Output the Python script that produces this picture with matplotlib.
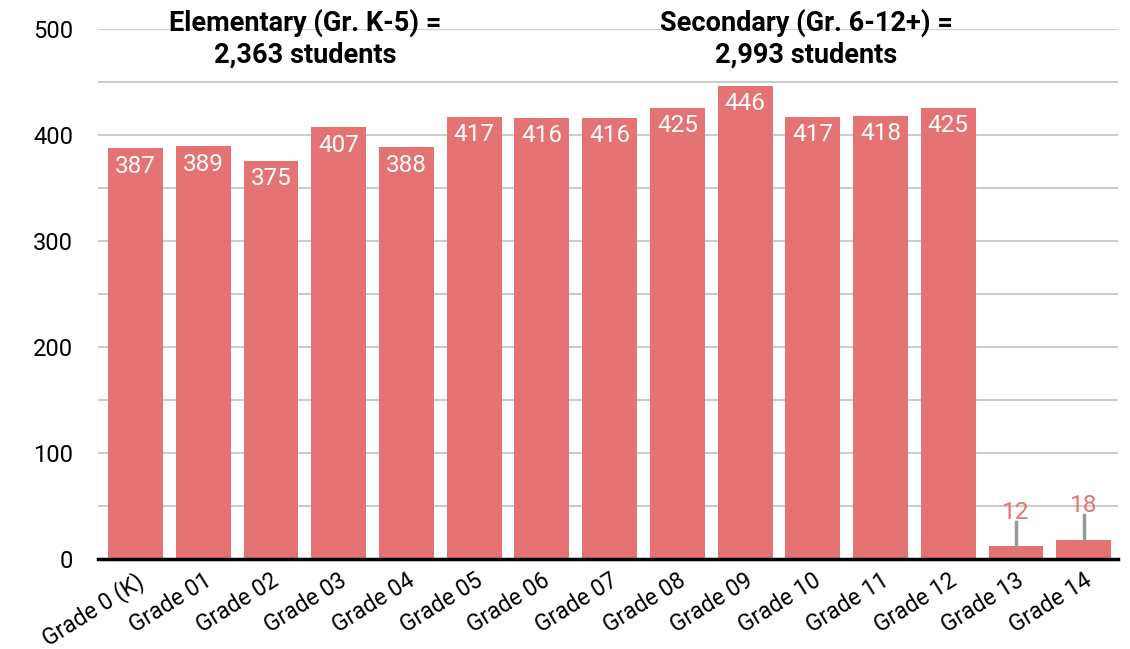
import matplotlib.pyplot as plt
from matplotlib.ticker import MultipleLocator

plt.rcParams['font.family'] = ['Roboto', 'DejaVu Sans']

grades = ['Grade 0 (K)', 'Grade 01', 'Grade 02', 'Grade 03', 'Grade 04', 'Grade 05',
          'Grade 06', 'Grade 07', 'Grade 08', 'Grade 09', 'Grade 10', 'Grade 11',
          'Grade 12', 'Grade 13', 'Grade 14']
students = [387, 389, 375, 407, 388, 417, 416, 416, 425, 446, 417, 418, 425, 12, 18]

bar_color = '#e57373'

fig = plt.figure(figsize=(11.3, 6.49), dpi=100)
ax = fig.add_axes([0.087, 0.139, 0.902, 0.817])

x = range(len(grades))
ax.bar(x, students, width=0.81, color=bar_color, zorder=2)

# labels inside the big bars, leader line + label above the tiny ones
for i, v in enumerate(students):
    if v > 100:
        ax.text(i, v - 6, str(v), ha='center', va='top', color='white', fontsize=17.5, zorder=3)
    else:
        ax.plot([i, i], [v, v + 23], color='#999999', lw=2.5, zorder=3)
        ax.text(i, v + 21, str(v), ha='center', va='bottom', color=bar_color, fontsize=17.5, zorder=3)

ax.text(2.5, 519, 'Elementary (Gr. K-5) =\n2,363 students', ha='center', va='top',
        fontsize=19.5, fontweight='bold', linespacing=1.22, zorder=4)
ax.text(9.9, 519, 'Secondary (Gr. 6-12+) =\n2,993 students', ha='center', va='top',
        fontsize=19.5, fontweight='bold', linespacing=1.22, zorder=4)

ax.set_xlim(-0.55, 14.5)
ax.set_ylim(0, 500)
ax.yaxis.set_major_locator(MultipleLocator(100))
ax.yaxis.set_minor_locator(MultipleLocator(50))
ax.grid(axis='y', which='both', color='#cccccc', lw=1.5, zorder=0)
ax.set_axisbelow(True)

for s in ['top', 'right', 'left']:
    ax.spines[s].set_visible(False)
ax.spines['bottom'].set_linewidth(2.5)
ax.spines['bottom'].set_zorder(5)

ax.tick_params(axis='y', which='both', length=0, labelsize=17, pad=18)
ax.tick_params(axis='x', length=0, labelsize=16.5, pad=7)
ax.set_xticks(list(x))
ax.set_xticklabels(grades, rotation=32, ha='right', rotation_mode='anchor')

plt.savefig('out.png', dpi=100)
